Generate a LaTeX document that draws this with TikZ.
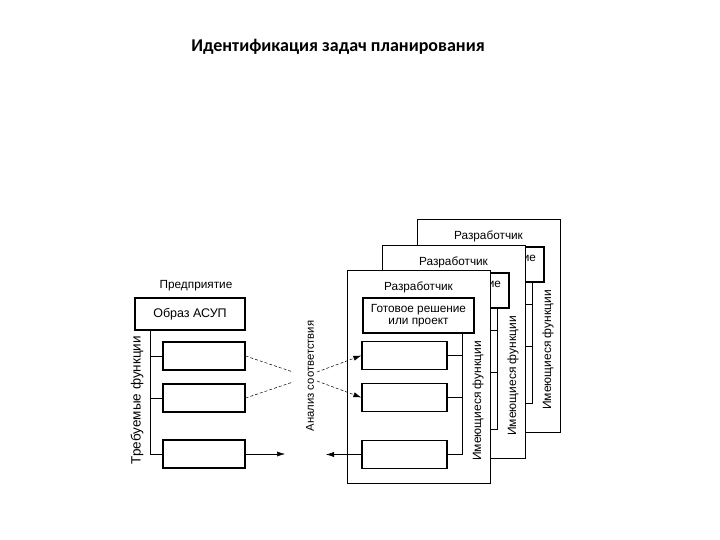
\documentclass[tikz,border=0pt]{standalone}
\usepackage{fontspec}
\setmainfont{Liberation Sans}
\newfontfamily\titlefont{Carlito}
\usetikzlibrary{arrows.meta}

\begin{document}
\begin{tikzpicture}[x=1pt, y=-1pt, >={Latex[length=8pt,width=5pt]},
             every node/.style={font=\fontsize{11.8}{13}\selectfont},
             fbox/.style={rectangle, draw, line width=1.2pt, fill=white,
                          inner sep=0pt, minimum width=82pt, minimum height=28pt},
             devframe/.style={rectangle, draw, line width=0.6pt, fill=white,
                          minimum width=143pt, minimum height=213pt},
             link/.style={line width=1pt},
             match/.style={densely dashed, line width=0.5pt}]
\useasboundingbox (0,0) rectangle (720,540);
\node[font=\titlefont\bfseries\fontsize{18}{21}\selectfont] (title) at (338,47)
  {Идентификация задач планирования};

%% Developers: back to front, each one a shifted copy
\foreach \dx/\dy/\k in {70/-51/c, 35/-25/b, 0/0/a} {
\begin{scope}[shift={(\dx,\dy)}]
  \node[devframe] (dev\k) at (418.5,376.5) {};
  \node (devname\k) at (418.5,287) {Разработчик};
  \node[fbox, minimum width=111pt, minimum height=35pt, align=center,
        font=\fontsize{11.8}{12.5}\selectfont] (ready\k) at (418.5,315.5)
    {Готовое решение\\или проект};
  \node[fbox, minimum width=85pt] (hasA\k) at (404.5,355.5) {};
  \node[fbox, minimum width=85pt] (hasB\k) at (404.5,397.5) {};
  \node[fbox, minimum width=85pt] (hasC\k) at (404.5,454.5) {};
  \coordinate (spine\k) at (462,333);
  \draw[link] (spine\k) |- (hasC\k.east);
  \draw[link] (hasA\k.east) -- (hasA\k.east -| spine\k);
  \draw[link] (hasB\k.east) -- (hasB\k.east -| spine\k);
  \node[rotate=90, font=\fontsize{12}{13}\selectfont] (haslbl\k) at (478,401)
    {Имеющиеся функции};
\end{scope}
}

%% Enterprise side
\node (firm) at (196,286) {Предприятие};
\node[fbox, minimum width=110pt, minimum height=32pt,
      font=\fontsize{12.5}{14}\selectfont] (image) at (190,314) {Образ АСУП};
\node[fbox] (needA) at (204,356) {};
\node[fbox] (needB) at (204,398) {};
\node[fbox] (needC) at (204,454) {};
\coordinate (trunk) at (150,330);
\draw[link] (trunk) |- (needC.west);
\draw[link] (needA.west) -- (needA.west -| trunk);
\draw[link] (needB.west) -- (needB.west -| trunk);
\node[rotate=90, font=\fontsize{13.5}{15}\selectfont] (needlbl) at (137,400)
  {Требуемые функции};

%% matching
\node[rotate=90, font=\fontsize{11.3}{13}\selectfont] (analysis) at (310,376)
  {Анализ соответствия};
\coordinate (inA)  at (293,372);
\coordinate (inB)  at (293,382);
\coordinate (outA) at (317,372);
\coordinate (outB) at (317,381);
\draw[match] (needA.east) -- (inA);
\draw[match] (needB.east) -- (inB);
\draw[match, ->] (outA) -- (hasAa.west);
\draw[match, ->] (outB) -- (hasBa.west);
\coordinate (toA) at (285,454);
\coordinate (toB) at (326,454.5);
\draw[->, line width=0.5pt] (needC.east) -- (toA);
\draw[->, line width=0.5pt] (hasCa.west) -- (toB);
\end{tikzpicture}
\end{document}
